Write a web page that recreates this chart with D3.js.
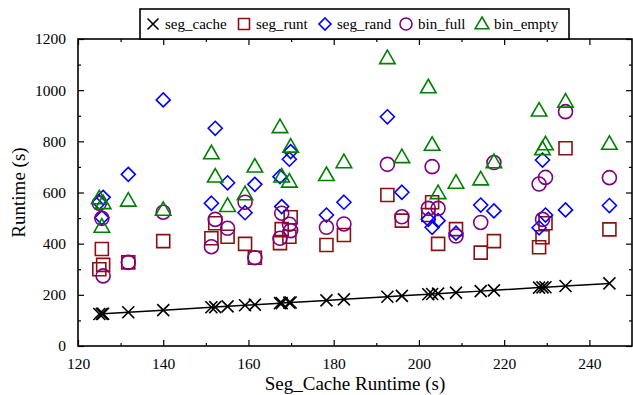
<!DOCTYPE html>
<html>
<head>
<meta charset="utf-8">
<script src="https://cdn.jsdelivr.net/npm/d3@7"></script>
<style>
  html, body { margin: 0; padding: 0; background: #fff; }
  svg { display: block; font-family: "Liberation Serif", "Times New Roman", serif; }
</style>
</head>
<body>
<svg id="chart" width="633" height="395"></svg>
<script>
// Seg_Cache runtime (s) for each run; seg_cache plotted against itself
const segCache = [125.0, 125.6, 125.9, 131.8, 140.0, 151.3, 152.2, 155.1, 159.2, 161.5,
  167.4, 167.8, 169.6, 169.9, 178.3, 182.4, 192.6, 196.0, 202.2, 203.1, 204.5,
  208.7, 214.5, 217.6, 228.2, 229.0, 229.7, 234.4, 244.7];
const segRunt = [300, 379, 317, 327, 410, 421, 480, 427, 399, 345,
  402, 457, 427, 503, 395, 434, 590, 490, 512, 562, 399,
  457, 365, 410, 386, 425, 480, 773, 456];
const segRand = [562, 502, 581, 671, 962, 558, 851, 638, 521, 632,
  662, 545, 730, 760, 512, 562, 896, 601, 495, 464, 490,
  441, 551, 528, 462, 727, 512, 532, 549];
const binFull = [558, 499, 274, 327, 523, 388, 495, 460, 562, 345,
  421, 519, 476, 451, 464, 477, 710, 505, 538, 701, 538,
  430, 483, 717, 633, 495, 659, 916, 658];
const binEmpty = [577, 466, 558, 568, 532, 753, 662, 547, 593, 701,
  855, 662, 642, 779, 668, 718, 1125, 738, 1011, 786, 597,
  638, 651, 718, 920, 769, 788, 955, 790];

const seriesNames = ["seg_cache", "seg_runt", "seg_rand", "bin_full", "bin_empty"];
const xTicks = [120, 140, 160, 180, 200, 220, 240];
const yTicks = [0, 200, 400, 600, 800, 1000, 1200];

const svg = d3.select("#chart");
const m = { left: 78, right: 632, top: 39, bottom: 346 };

const x = d3.scaleLinear().domain([120, 250]).range([m.left, m.right]);
const y = d3.scaleLinear().domain([0, 1200]).range([m.bottom, m.top]);

const series = [
  { name: seriesNames[0], values: segCache, color: "#000000", shape: "cross" },
  { name: seriesNames[1], values: segRunt, color: "#8b1010", shape: "square" },
  { name: seriesNames[2], values: segRand, color: "#0000ff", shape: "diamond" },
  { name: seriesNames[3], values: binFull, color: "#800080", shape: "circle" },
  { name: seriesNames[4], values: binEmpty, color: "#008000", shape: "triangle" }
];

function markerPath(shape, s) {
  const h = s / 2;
  switch (shape) {
    case "cross": return `M${-h},${-h}L${h},${h}M${-h},${h}L${h},${-h}`;
    case "square": return `M${-h},${-h}H${h}V${h}H${-h}Z`;
    case "diamond": return `M0,${-h}L${h},0L0,${h}L${-h},0Z`;
    case "circle": return `M${h},0A${h},${h} 0 1,1 ${-h},0A${h},${h} 0 1,1 ${h},0Z`;
    case "triangle": {
      const t = s * 0.9;
      return `M0,${-t * 0.6}L${t / 2 + 1},${t * 0.4}L${-t / 2 - 1},${t * 0.4}Z`;
    }
  }
}
const sizes = { cross: 12, square: 13, diamond: 14, circle: 14, triangle: 15 };

// Axes: inward ticks on all four sides, minor ticks between majors
const tickSize = 6, minorSize = 3;
const xMinor = d3.range(130, 250, 20);
const yMinor = d3.range(100, 1200, 200);

const axes = svg.append("g");
axes.append("g").attr("transform", `translate(0,${m.bottom})`)
  .call(d3.axisBottom(x).tickValues(xTicks).tickSize(-tickSize).tickPadding(12).tickFormat(d3.format("d")))
  .call(g => g.select(".domain").remove());
axes.append("g").attr("transform", `translate(0,${m.bottom})`)
  .call(d3.axisBottom(x).tickValues(xMinor).tickSize(-minorSize).tickFormat(""))
  .call(g => g.select(".domain").remove());
axes.append("g").attr("transform", `translate(0,${m.top})`)
  .call(d3.axisTop(x).tickValues(xTicks).tickSize(-tickSize).tickFormat(""))
  .call(g => g.select(".domain").remove());
axes.append("g").attr("transform", `translate(0,${m.top})`)
  .call(d3.axisTop(x).tickValues(xMinor).tickSize(-minorSize).tickFormat(""))
  .call(g => g.select(".domain").remove());
axes.append("g").attr("transform", `translate(${m.left},0)`)
  .call(d3.axisLeft(y).tickValues(yTicks).tickSize(-tickSize).tickPadding(12).tickFormat(d3.format("d")))
  .call(g => g.select(".domain").remove());
axes.append("g").attr("transform", `translate(${m.left},0)`)
  .call(d3.axisLeft(y).tickValues(yMinor).tickSize(-minorSize).tickFormat(""))
  .call(g => g.select(".domain").remove());
axes.append("g").attr("transform", `translate(${m.right},0)`)
  .call(d3.axisRight(y).tickValues(yTicks).tickSize(-tickSize).tickFormat(""))
  .call(g => g.select(".domain").remove());
axes.append("g").attr("transform", `translate(${m.right},0)`)
  .call(d3.axisRight(y).tickValues(yMinor).tickSize(-minorSize).tickFormat(""))
  .call(g => g.select(".domain").remove());

axes.selectAll(".tick line").attr("stroke", "#000").attr("stroke-width", 1.2);
axes.selectAll(".tick text")
  .attr("font-family", "Liberation Serif, serif")
  .attr("font-size", 15.5)
  .attr("fill", "#000");

// Seg_cache trend line
const pts = segCache.map(v => [v, v]).sort((a, b) => a[0] - b[0]);
svg.append("path")
  .attr("d", d3.line().x(d => x(d[0])).y(d => y(d[1]))(pts))
  .attr("fill", "none").attr("stroke", "#000").attr("stroke-width", 1.5);

// Markers
series.forEach(s => {
  svg.append("g").selectAll("path")
    .data(s.values.map((v, i) => ({ xv: segCache[i], yv: v })))
    .join("path")
    .attr("transform", d => `translate(${x(d.xv)},${y(d.yv)})`)
    .attr("d", markerPath(s.shape, sizes[s.shape]))
    .attr("fill", "none")
    .attr("stroke", s.color)
    .attr("stroke-width", 1.6);
});

// Frame
svg.append("rect")
  .attr("x", m.left).attr("y", m.top)
  .attr("width", m.right - m.left).attr("height", m.bottom - m.top)
  .attr("fill", "none").attr("stroke", "#000").attr("stroke-width", 1.6);

// Axis titles
svg.append("text")
  .attr("x", (m.left + m.right) / 2).attr("y", 390)
  .attr("text-anchor", "middle").attr("font-size", 19)
  .text("Seg_Cache Runtime (s)");
svg.append("text")
  .attr("transform", `translate(25,${(m.top + m.bottom) / 2}) rotate(-90)`)
  .attr("text-anchor", "middle").attr("font-size", 19)
  .text("Runtime (s)");

// Legend
const legend = svg.append("g");
legend.append("rect")
  .attr("x", 140).attr("y", 9).attr("width", 429).attr("height", 30)
  .attr("fill", "#fff").attr("stroke", "#000").attr("stroke-width", 1.6);
const legendX = [153, 244, 325, 406, 482];
const legendSizes = { cross: 11, square: 11, diamond: 12, circle: 12, triangle: 13 };
series.forEach((s, i) => {
  legend.append("path")
    .attr("transform", `translate(${legendX[i]},24)`)
    .attr("d", markerPath(s.shape, legendSizes[s.shape]))
    .attr("fill", "none").attr("stroke", s.color).attr("stroke-width", 1.6);
  legend.append("text")
    .attr("x", legendX[i] + 12).attr("y", 29)
    .attr("font-size", 15)
    .text(s.name);
});
</script>
</body>
</html>
